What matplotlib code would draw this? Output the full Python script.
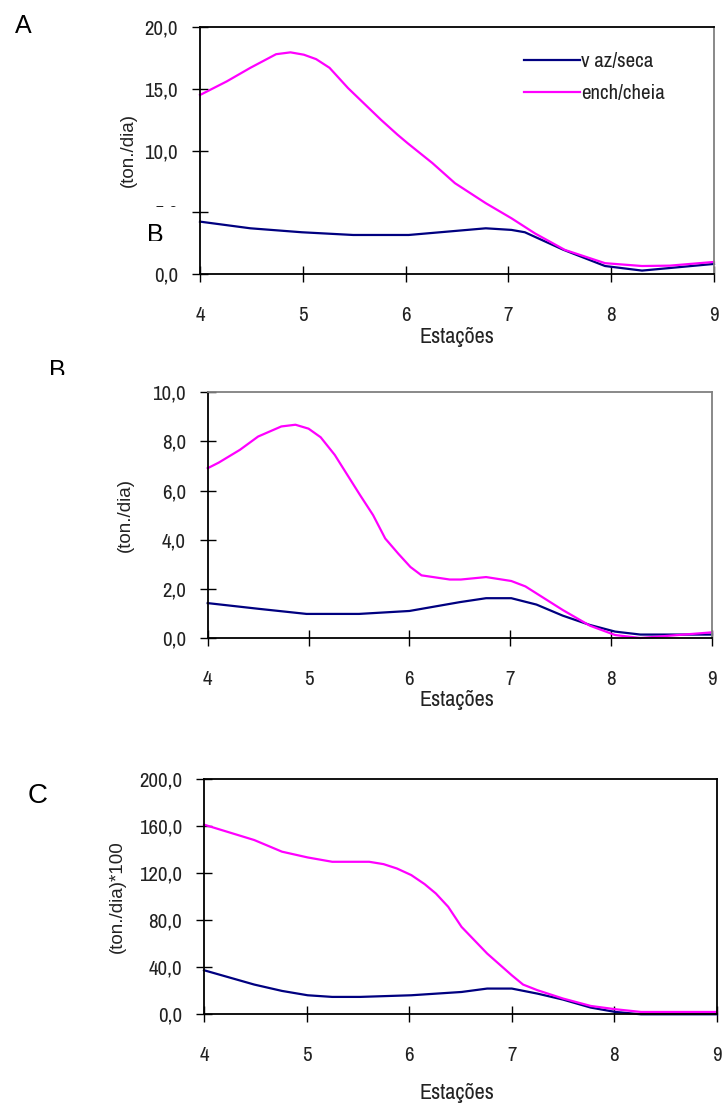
import matplotlib
matplotlib.use("Agg")
import logging
logging.getLogger("matplotlib.font_manager").setLevel(logging.ERROR)
import matplotlib.pyplot as plt
from matplotlib.patches import Rectangle
from matplotlib.ticker import FuncFormatter

W, H = 723, 1106
DPI = 100

# ---------------- data ----------------
xA_cheia = [4.0, 4.26, 4.49, 4.74, 4.88, 5.01, 5.13, 5.26, 5.44, 5.76, 5.92, 6.02, 6.26, 6.48, 6.78, 7.03, 7.26, 7.55, 7.94, 8.30, 8.57, 9.0]
yA_cheia = [14.5, 15.6, 16.7, 17.8, 17.95, 17.76, 17.4, 16.7, 15.06, 12.5, 11.3, 10.6, 9.0, 7.37, 5.75, 4.53, 3.3, 1.97, 0.9, 0.67, 0.7, 1.0]
xA_seca = [4.0, 4.49, 4.99, 5.49, 6.03, 6.78, 7.03, 7.16, 7.53, 7.94, 8.30, 9.0]
yA_seca = [4.26, 3.72, 3.40, 3.18, 3.18, 3.72, 3.59, 3.4, 2.0, 0.67, 0.3, 0.84]

xB_cheia = [4.0, 4.11, 4.32, 4.50, 4.73, 4.87, 5.0, 5.12, 5.26, 5.51, 5.64, 5.76, 5.89, 6.01, 6.12, 6.40, 6.51, 6.76, 7.01, 7.15, 7.52, 7.79, 8.04, 8.29, 9.0]
yB_cheia = [6.91, 7.14, 7.66, 8.2, 8.61, 8.68, 8.52, 8.17, 7.45, 5.82, 5.0, 4.05, 3.43, 2.89, 2.55, 2.38, 2.38, 2.48, 2.32, 2.10, 1.14, 0.50, 0.12, 0.0, 0.23]
xB_seca = [4.0, 4.5, 4.98, 5.5, 6.0, 6.5, 6.76, 7.01, 7.26, 7.52, 7.79, 8.04, 8.29, 9.0]
yB_seca = [1.42, 1.19, 0.98, 0.98, 1.10, 1.46, 1.62, 1.62, 1.36, 0.91, 0.53, 0.26, 0.14, 0.14]

xC_cheia = [4.0, 4.49, 4.76, 5.01, 5.25, 5.61, 5.75, 5.88, 6.02, 6.15, 6.26, 6.38, 6.51, 6.76, 7.0, 7.11, 7.25, 7.5, 7.77, 8.01, 8.26, 9.0]
yC_cheia = [161.4, 148.3, 138.4, 133.5, 129.8, 129.8, 127.8, 124.1, 118.5, 110.8, 102.8, 91.5, 74.4, 51.7, 33.2, 25.3, 20.5, 13.4, 7.1, 4.3, 2.0, 2.0]
xC_seca = [4.0, 4.49, 4.76, 5.01, 5.25, 5.52, 6.02, 6.51, 6.76, 7.0, 7.25, 7.5, 7.77, 8.01, 8.26, 9.0]
yC_seca = [37.5, 25.3, 19.9, 16.2, 14.8, 14.8, 16.2, 19.0, 21.9, 21.9, 17.6, 12.5, 5.7, 2.0, 0.0, 0.0]

x_ticks = [4, 5, 6, 7, 8, 9]
yA_ticks = [0, 5, 10, 15, 20]
yB_ticks = [0, 2, 4, 6, 8, 10]
yC_ticks = [0, 40, 80, 120, 160, 200]

labels = ["v az/seca", "ench/cheia"]
panel_names = ["A", "B", "C"]

C_SECA = "#000080"
C_CHEIA = "#ff00ff"

NARROW = ["Liberation Sans Narrow", "Arial Narrow", "Archivo Narrow", "Roboto Condensed",
          "Sofia Sans Condensed", "DejaVu Sans"]
REG = ["Liberation Sans", "DejaVu Sans"]

fig = plt.figure(figsize=(W / DPI, H / DPI), dpi=DPI)


def fx(px):
    return px / W


def fy(py):
    return 1 - py / H


def make_axes(left, right, top, bottom):
    return fig.add_axes([fx(left), fy(bottom), fx(right - left), (bottom - top) / H])


comma = FuncFormatter(lambda v, p: f"{v:.1f}".replace(".", ","))


def style(ax, yticks, ylim, top_col, right_col, ylabel, ylab_x, ylab_y, xlab_y):
    ax.set_xlim(4, 9)
    ax.set_ylim(*ylim)
    ax.set_xticks(x_ticks)
    ax.set_yticks(yticks)
    ax.yaxis.set_major_formatter(comma)
    ax.tick_params(axis="both", direction="inout", length=11.5, width=1.0, color="black")
    ax.tick_params(axis="y", pad=10)
    ax.tick_params(axis="x", pad=17)
    for lab in ax.get_xticklabels() + ax.get_yticklabels():
        lab.set_fontfamily(NARROW)
        lab.set_fontsize(15)
        lab.set_color("#222222")
    for s in ["left", "bottom"]:
        ax.spines[s].set_color("black")
        ax.spines[s].set_linewidth(1.3)
    ax.spines["top"].set_color(top_col)
    ax.spines["right"].set_color(right_col)
    ax.spines["top"].set_linewidth(1.3)
    ax.spines["right"].set_linewidth(1.3)
    ax.set_facecolor("white")
    fig.text(fx(ylab_x), fy(ylab_y), ylabel, rotation=90, ha="center", va="center",
             fontsize=13.5, family=REG, color="#222222")
    fig.text(fx(457), fy(xlab_y), "Estações", ha="center", va="center",
             fontsize=16, family=NARROW, color="#222222")


# Panel A
axA = make_axes(200, 714, 27, 274.3)
axA.plot(xA_seca, yA_seca, color=C_SECA, lw=1.6, label=labels[0], clip_on=False)
axA.plot(xA_cheia, yA_cheia, color=C_CHEIA, lw=1.6, label=labels[1], clip_on=False)
style(axA, yA_ticks, (0, 20), "black", "#808080", "(ton./dia)", 128, 150, 337)
leg = axA.legend(loc="upper left", bbox_to_anchor=(fx(514), fy(42)),
                 bbox_transform=fig.transFigure, frameon=False, borderpad=0,
                 handlelength=2.65, handletextpad=0.05, labelspacing=0.6,
                 prop={"family": NARROW, "size": 15})
for t in leg.get_texts():
    t.set_color("#222222")

# Panel B
axB = make_axes(207.7, 712, 392.3, 638)
axB.plot(xB_seca, yB_seca, color=C_SECA, lw=1.6, clip_on=False)
axB.plot(xB_cheia, yB_cheia, color=C_CHEIA, lw=1.6, clip_on=False)
style(axB, yB_ticks, (0, 10), "#808080", "#808080", "(ton./dia)", 125, 515, 700)

# Panel C
axC = make_axes(204, 717, 779.3, 1014.3)
axC.plot(xC_seca, yC_seca, color=C_SECA, lw=1.6, clip_on=False)
axC.plot(xC_cheia, yC_cheia, color=C_CHEIA, lw=1.6, clip_on=False)
style(axC, yC_ticks, (0, 200), "black", "black", "(ton./dia)*100", 117, 897, 1093)

# Panel letters
fig.text(fx(23), fy(14), panel_names[0], ha="center", va="top", fontsize=18, family=REG, color="black")
fig.text(fx(57), fy(359), panel_names[1], ha="center", va="top", fontsize=18, family=REG, color="black")
fig.text(fx(38), fy(783), panel_names[2], ha="center", va="top", fontsize=20, family=REG, color="black")

# stray overlapping "B" box in panel A (artifact of the original figure)
fig.patches.append(Rectangle((fx(40), fy(262)), fx(146), (262 - 207) / H, transform=fig.transFigure,
                             facecolor="white", edgecolor="none", zorder=10))
fig.text(fx(155), fy(223), panel_names[1], ha="center", va="top", fontsize=18, family=REG,
         color="black", zorder=11)
fig.patches.append(Rectangle((fx(130), fy(262)), fx(56), (262 - 241) / H, transform=fig.transFigure,
                             facecolor="white", edgecolor="none", zorder=12))
# clip bottom of panel B letter
fig.patches.append(Rectangle((fx(40), fy(386)), fx(40), (386 - 375) / H, transform=fig.transFigure,
                             facecolor="white", edgecolor="none", zorder=12))

fig.savefig("out.png", dpi=DPI)
